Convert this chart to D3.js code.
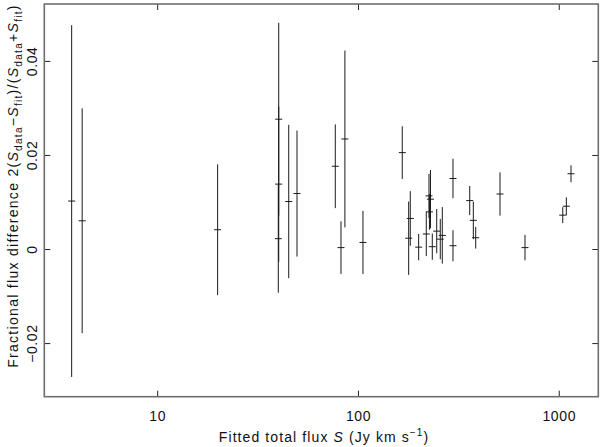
<!DOCTYPE html>
<html>
<head>
<meta charset="utf-8">
<script src="https://cdn.jsdelivr.net/npm/d3@7"></script>
<style>
  body { margin: 0; background: #fff; }
  svg { display: block; }
  text { font-family: "Liberation Sans", Arial, sans-serif; fill: #111; }
</style>
</head>
<body>
<svg id="chart" width="600" height="447"></svg>
<script>
// fitted total flux S (Jy km/s)
const fluxFit = [3.75, 4.23, 20.0, 40.3, 40.3, 40.1, 45.2, 49.7, 77.1, 86.1, 82.3, 105.9,
  166.2, 178.9, 182.2, 200.6, 218.9, 229.7, 225.8, 227.0, 234.5, 246.7, 257.0, 263.0,
  297.3, 297.3, 360.3, 375.4, 385.9, 509.9, 679, 1047, 1091, 1151];
// fractional flux difference
const fracDiff = [0.0102, 0.0060, 0.0041, 0.0276, 0.0138, 0.0022, 0.0101, 0.0118, 0.0176, 0.0234, 0.0003, 0.0014,
  0.0205, 0.0023, 0.0065, 0.0004, 0.0032, 0.0106, 0.0113, 0.0079, 0.0005, 0.0038, 0.0021, 0.0029,
  0.0150, 0.0007, 0.0103, 0.0061, 0.0024, 0.0117, 0.0003, 0.0072, 0.0091, 0.0160];
// 1-sigma error on the difference
const fracErr = [0.0374, 0.0239, 0.0139, 0.0205, 0.0165, 0.0115, 0.0163, 0.0134, 0.0089, 0.0188, 0.0056, 0.0067,
  0.0056, 0.0078, 0.0058, 0.0028, 0.0047, 0.0062, 0.0047, 0.0038, 0.0028, 0.0047, 0.0043, 0.0060,
  0.0042, 0.0033, 0.0031, 0.0040, 0.0023, 0.0046, 0.0027, 0.0017, 0.0019, 0.0018];

const xTicks = [10, 100, 1000];
const yTicks = [-0.02, 0, 0.02, 0.04];
const xDomain = [2.74, 1574];
const yDomain = [-0.0314, 0.0521];

const pts = fluxFit.map((f, i) => ({ x: f, y: fracDiff[i], e: fracErr[i] }));

const svg = d3.select("#chart");
const m = { left: 44.3, right: 598.3, top: 4, bottom: 396.7 };

const x = d3.scaleLog().domain(xDomain).range([m.left, m.right]);
const y = d3.scaleLinear().domain(yDomain).range([m.bottom, m.top]);

svg.append("rect").attr("width", 600).attr("height", 447).attr("fill", "#fff");

// error bars
const g = svg.append("g").attr("stroke", "#1a1a1a").attr("stroke-width", 1);
g.selectAll("line.bar").data(pts).enter().append("line").attr("class", "bar")
  .attr("x1", d => x(d.x)).attr("x2", d => x(d.x))
  .attr("y1", d => y(d.y + d.e)).attr("y2", d => y(d.y - d.e));
g.selectAll("line.tick").data(pts).enter().append("line").attr("class", "tick")
  .attr("x1", d => x(d.x) - 3.5).attr("x2", d => x(d.x) + 3.5)
  .attr("y1", d => y(d.y)).attr("y2", d => y(d.y));

// axes (ticks inward, on all four sides)
const fmtY = d => d === 0 ? "0" : (d < 0 ? "\u2212" + d3.format(".2f")(-d) : d3.format(".2f")(d));
const tickLen = 6;

const bottomAx = svg.append("g").attr("transform", `translate(0,${m.bottom})`)
  .call(d3.axisBottom(x).tickValues(xTicks).tickSize(-tickLen).tickPadding(tickLen + 8).tickFormat(d3.format("d")));
const topAx = svg.append("g").attr("transform", `translate(0,${m.top})`)
  .call(d3.axisTop(x).tickValues(xTicks).tickSize(-tickLen).tickFormat(""));
const leftAx = svg.append("g").attr("transform", `translate(${m.left},0)`)
  .call(d3.axisLeft(y).tickValues(yTicks).tickSize(-tickLen).tickFormat(fmtY));
const rightAx = svg.append("g").attr("transform", `translate(${m.right},0)`)
  .call(d3.axisRight(y).tickValues(yTicks).tickSize(-tickLen).tickFormat(""));

[bottomAx, topAx, leftAx, rightAx].forEach(a => {
  a.select(".domain").remove();
  a.selectAll(".tick line").attr("stroke", "#222").attr("stroke-width", 1);
});
bottomAx.selectAll(".tick text").attr("font-size", 14).attr("fill", "#111")
  .attr("letter-spacing", 0.6)
  .attr("font-family", "Liberation Sans, Arial, sans-serif");

// rotated y tick labels
leftAx.selectAll(".tick text").attr("font-size", 14).attr("fill", "#111")
  .attr("letter-spacing", 0.6)
  .attr("font-family", "Liberation Sans, Arial, sans-serif")
  .attr("text-anchor", "middle").attr("dy", null).attr("x", null)
  .attr("transform", "translate(-7,0) rotate(-90)").attr("y", 0);

// frame
svg.append("rect").attr("x", m.left).attr("y", m.top)
  .attr("width", m.right - m.left).attr("height", m.bottom - m.top)
  .attr("fill", "none").attr("stroke", "#6e6e6e").attr("stroke-width", 1.6);

// x label
const xl = svg.append("text").attr("x", 324).attr("y", 442).attr("text-anchor", "middle")
  .attr("font-size", 14).attr("letter-spacing", 1.1);
xl.append("tspan").text("Fitted total flux ");
xl.append("tspan").attr("font-style", "italic").text("S");
xl.append("tspan").text(" (Jy km s");
xl.append("tspan").attr("font-size", 10).attr("dy", -6).text("\u22121");
xl.append("tspan").attr("dy", 6).text(")");

// y label
const yl = svg.append("text").attr("transform", "translate(18,186) rotate(-90)")
  .attr("text-anchor", "middle").attr("font-size", 14).attr("letter-spacing", 1.3);
yl.append("tspan").text("Fractional flux difference 2(");
yl.append("tspan").attr("font-style", "italic").text("S");
yl.append("tspan").attr("font-size", 10).attr("dy", 4).text("data");
yl.append("tspan").attr("dy", -4).text("\u2212");
yl.append("tspan").attr("font-style", "italic").text("S");
yl.append("tspan").attr("font-size", 10).attr("dy", 4).text("fit");
yl.append("tspan").attr("dy", -4).text(")/(");
yl.append("tspan").attr("font-style", "italic").text("S");
yl.append("tspan").attr("font-size", 10).attr("dy", 4).text("data");
yl.append("tspan").attr("dy", -4).text("+");
yl.append("tspan").attr("font-style", "italic").text("S");
yl.append("tspan").attr("font-size", 10).attr("dy", 4).text("fit");
yl.append("tspan").attr("dy", -4).text(")");
</script>
</body>
</html>
